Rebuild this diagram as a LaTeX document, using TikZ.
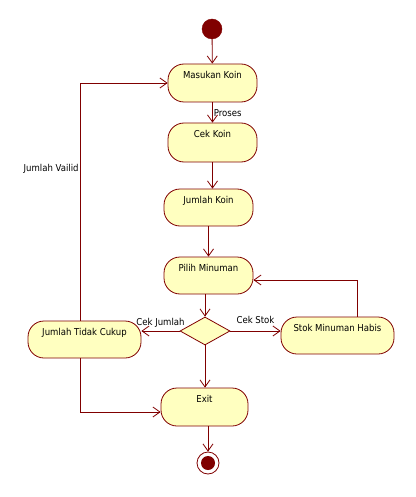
\documentclass[tikz,border=0pt]{standalone}
\usepackage{fontspec}
\setmainfont{DejaVu Sans Condensed}
\usetikzlibrary{arrows.meta,shapes.geometric,calc}

\definecolor{actline}{RGB}{128,0,0}
\definecolor{actfill}{RGB}{255,255,192}

\tikzset{
  activity/.style={draw=actline, fill=actfill, line width=0.8pt,
    rounded corners=16pt, minimum width=89pt, minimum height=38pt,
    text height=7pt, text depth=16pt, font=\fontsize{9.5}{11}\selectfont},
  decision/.style={diamond, draw=actline, fill=actfill, line width=0.8pt,
    minimum width=50pt, minimum height=28pt, inner sep=0pt},
  flow/.style={draw=actline, line width=0.8pt,
    -{Straight Barb[length=7pt,width=10pt]}},
  guard/.style={font=\fontsize{9.5}{11}\selectfont}
}

\begin{document}
\begin{tikzpicture}[x=1pt,y=-1pt]
\useasboundingbox (0,0) rectangle (415,497);

% start and end
\node[circle, draw=actline, fill=actline, minimum size=20pt, inner sep=0pt] (start) at (212,29) {};
\node[circle, draw=actline, fill=white, line width=0.8pt, minimum size=22pt, inner sep=0pt] (stop) at (208,463) {};
\node[circle, fill=actline, minimum size=14pt, inner sep=0pt] (stopdot) at (stop) {};

% activities
\node[activity] (masuk) at (212.5,83) {Masukan Koin};
\node[activity, minimum height=39pt] (cek) at (212.5,142.5) {Cek Koin};
\node[activity, minimum height=37pt] (jumlah) at (208.5,207.5) {Jumlah Koin};
\node[activity, minimum height=37pt] (pilih) at (208.5,275.5) {Pilih Minuman};
\node[decision] (cekdec) at (205,331) {};
\node[activity, minimum width=113pt, minimum height=37pt] (tidak) at (84.5,339.5) {Jumlah Tidak Cukup};
\node[activity, minimum width=113pt, minimum height=37pt] (stok) at (337.5,335.5) {Stok Minuman Habis};
\node[activity, minimum width=87pt] (exit) at (204.5,407) {Exit};

% flows
\draw[flow] (start) -- (masuk);
\draw[flow] (masuk) -- node[pos=0.55, right, guard, inner sep=1pt] {Proses} (cek);
\draw[flow] (cek.south) -- (cek.south |- jumlah.north);
\draw[flow] (jumlah) -- (pilih);
\draw[flow] (pilih.south -| cekdec.north) -- (cekdec.north);
\draw[flow] (cekdec.west) -- node[above, guard] {Cek Jumlah} (cekdec.west -| tidak.east);
\draw[flow] (cekdec.east) -- node[above, guard, yshift=4pt] {Cek Stok} (cekdec.east -| stok.west);
\draw[flow] (cekdec.south) -- (cekdec.south |- exit.north);
\draw[flow] (exit.south -| stop.north) -- (stop.north);

% loops back
\draw[flow] ([xshift=19.5pt]stok.north) |- ([yshift=-4.5pt]pilih.east);
\draw[flow] ([xshift=-4.5pt]tidak.north) |- node[pos=0.32, left, guard, inner sep=1pt] {Jumlah Vailid} (masuk.west);
\draw[flow] ([xshift=-4.5pt]tidak.south) |- ([yshift=-5pt]exit.west);
\end{tikzpicture}
\end{document}
